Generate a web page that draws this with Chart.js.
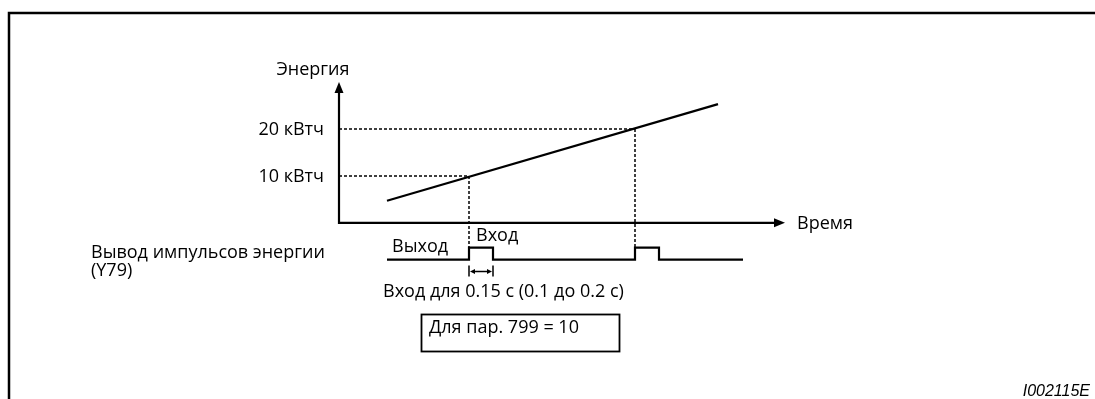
<!DOCTYPE html>
<html>
<head>
<meta charset="utf-8">
<script src="https://cdn.jsdelivr.net/npm/chart.js@4"></script>
<style>
body { margin: 0; background: #fff; }
#wrap { width: 1095px; height: 399px; }
</style>
</head>
<body>
<div id="wrap"><canvas id="chart" width="1095" height="399"></canvas></div>
<script>
// time is in arbitrary units, energy in kWh
const lineTime = [4.8, 37.9];
const lineEnergy = [4.7, 25.3];

// energy levels where a pulse is sent out
const markLevels = [10, 20];
const markTimes = [13, 29.6];
const markLabels = ['10 кВтч', '20 кВтч'];
const pulseWidth = 2.4;

// pulse output Y79 (0 = off, 1 = on)
const pulseTime = [4.8, 13, 13, 15.4, 15.4, 29.6, 29.6, 32, 32, 40.4];
const pulseState = [0, 0, 1, 1, 0, 0, 1, 1, 0, 0];

const FONT = '"Open Sans", sans-serif';

function pts(xs, ys) {
    return xs.map((x, i) => ({ x: x, y: ys[i] }));
}

let datasets = [];
datasets.push({
    data: pts(lineTime, lineEnergy),
    borderColor: '#000', borderWidth: 2.2, pointRadius: 0, yAxisID: 'y'
});
markLevels.forEach((lvl, i) => {
    datasets.push({
        data: [{ x: 0, y: lvl }, { x: markTimes[i], y: lvl }],
        borderColor: '#000', borderWidth: 1.5, borderDash: [3, 2], pointRadius: 0, yAxisID: 'y'
    });
});
datasets.push({
    data: pts(pulseTime, pulseState),
    borderColor: '#000', borderWidth: 2.2, pointRadius: 0, yAxisID: 'yp'
});

function arrowHead(ctx, x, y, dir, len, half) {
    ctx.beginPath();
    if (dir === 'up') { ctx.moveTo(x, y); ctx.lineTo(x - half, y + len); ctx.lineTo(x + half, y + len); }
    if (dir === 'right') { ctx.moveTo(x, y); ctx.lineTo(x - len, y - half); ctx.lineTo(x - len, y + half); }
    if (dir === 'left') { ctx.moveTo(x, y); ctx.lineTo(x + len, y - half); ctx.lineTo(x + len, y + half); }
    ctx.closePath();
    ctx.fill();
}

const drawing = {
    id: 'drawing',
    afterDatasetsDraw(chart) {
        const ctx = chart.ctx;
        const xs = chart.scales.x, ys = chart.scales.y, yp = chart.scales.yp;
        const x0 = xs.getPixelForValue(0);
        const y0 = ys.getPixelForValue(0);
        const xEnd = xs.getPixelForValue(xs.max);
        const yTop = ys.getPixelForValue(ys.max);
        ctx.save();
        ctx.strokeStyle = '#000';
        ctx.fillStyle = '#000';

        // frame
        ctx.lineWidth = 2.5;
        ctx.beginPath();
        ctx.moveTo(9, 399); ctx.lineTo(9, 13); ctx.lineTo(1095, 13);
        ctx.stroke();

        // axes
        ctx.lineWidth = 2.2;
        ctx.beginPath();
        ctx.moveTo(x0, yTop + 8); ctx.lineTo(x0, y0); ctx.lineTo(xEnd - 8, y0);
        ctx.stroke();
        arrowHead(ctx, x0, yTop, 'up', 11, 4.5);
        arrowHead(ctx, xEnd, y0, 'right', 11, 4.5);

        // dotted drops from the line to the pulse
        ctx.lineWidth = 1.5;
        ctx.setLineDash([3, 2]);
        markLevels.forEach((lvl, i) => {
            const px = xs.getPixelForValue(markTimes[i]);
            ctx.beginPath();
            ctx.moveTo(px, ys.getPixelForValue(lvl));
            ctx.lineTo(px, yp.getPixelForValue(1));
            ctx.stroke();
        });
        ctx.setLineDash([]);

        // pulse width marker
        const a = xs.getPixelForValue(markTimes[0]);
        const b = xs.getPixelForValue(markTimes[0] + pulseWidth);
        const my = yp.getPixelForValue(0) + 12;
        ctx.lineWidth = 1.5;
        ctx.beginPath();
        ctx.moveTo(a, my - 6); ctx.lineTo(a, my + 5);
        ctx.moveTo(b, my - 6); ctx.lineTo(b, my + 5);
        ctx.moveTo(a + 4, my); ctx.lineTo(b - 4, my);
        ctx.stroke();
        arrowHead(ctx, a + 1, my, 'left', 5, 2.5);
        arrowHead(ctx, b - 1, my, 'right', 5, 2.5);

        // texts
        ctx.font = '18px ' + FONT;
        ctx.textBaseline = 'alphabetic';
        ctx.textAlign = 'right';
        markLevels.forEach((lvl, i) => {
            ctx.fillText(markLabels[i], x0 - 15, ys.getPixelForValue(lvl) + 6);
        });
        ctx.textAlign = 'center';
        ctx.fillText('Энергия', x0 - 26, 75);
        ctx.textAlign = 'left';
        ctx.fillText('Время', xEnd + 12, y0 + 6);
        ctx.fillText('Выход', 392, 252);
        ctx.fillText('Вход', 476, 241);
        ctx.fillText('Вывод импульсов энергии', 91, 258);
        ctx.fillText('(Y79)', 91, 276);
        ctx.fillText('Вход для 0.15 с (0.1 до 0.2 с)', 383, 297);

        ctx.lineWidth = 1.8;
        ctx.strokeRect(421.5, 314.5, 198, 37);
        ctx.fillText('Для пар. 799 = 10', 429, 333);

        ctx.font = 'italic 16px "Liberation Sans", Arial, sans-serif';
        ctx.textAlign = 'right';
        ctx.fillText('I002115E', 1090, 396);
        ctx.restore();
    }
};

new Chart(document.getElementById('chart'), {
    type: 'line',
    data: { datasets: datasets },
    options: {
        responsive: false,
        animation: false,
        devicePixelRatio: 1,
        layout: { padding: { left: 339, right: 310, top: 82, bottom: 101 } },
        plugins: { legend: { display: false }, tooltip: { enabled: false } },
        scales: {
            x: { type: 'linear', min: 0, max: 44.6, display: false },
            y: { min: -16, max: 30, display: false },
            yp: { min: -3.2, max: 14.8, display: false }
        }
    },
    plugins: [drawing]
});
</script>
</body>
</html>
